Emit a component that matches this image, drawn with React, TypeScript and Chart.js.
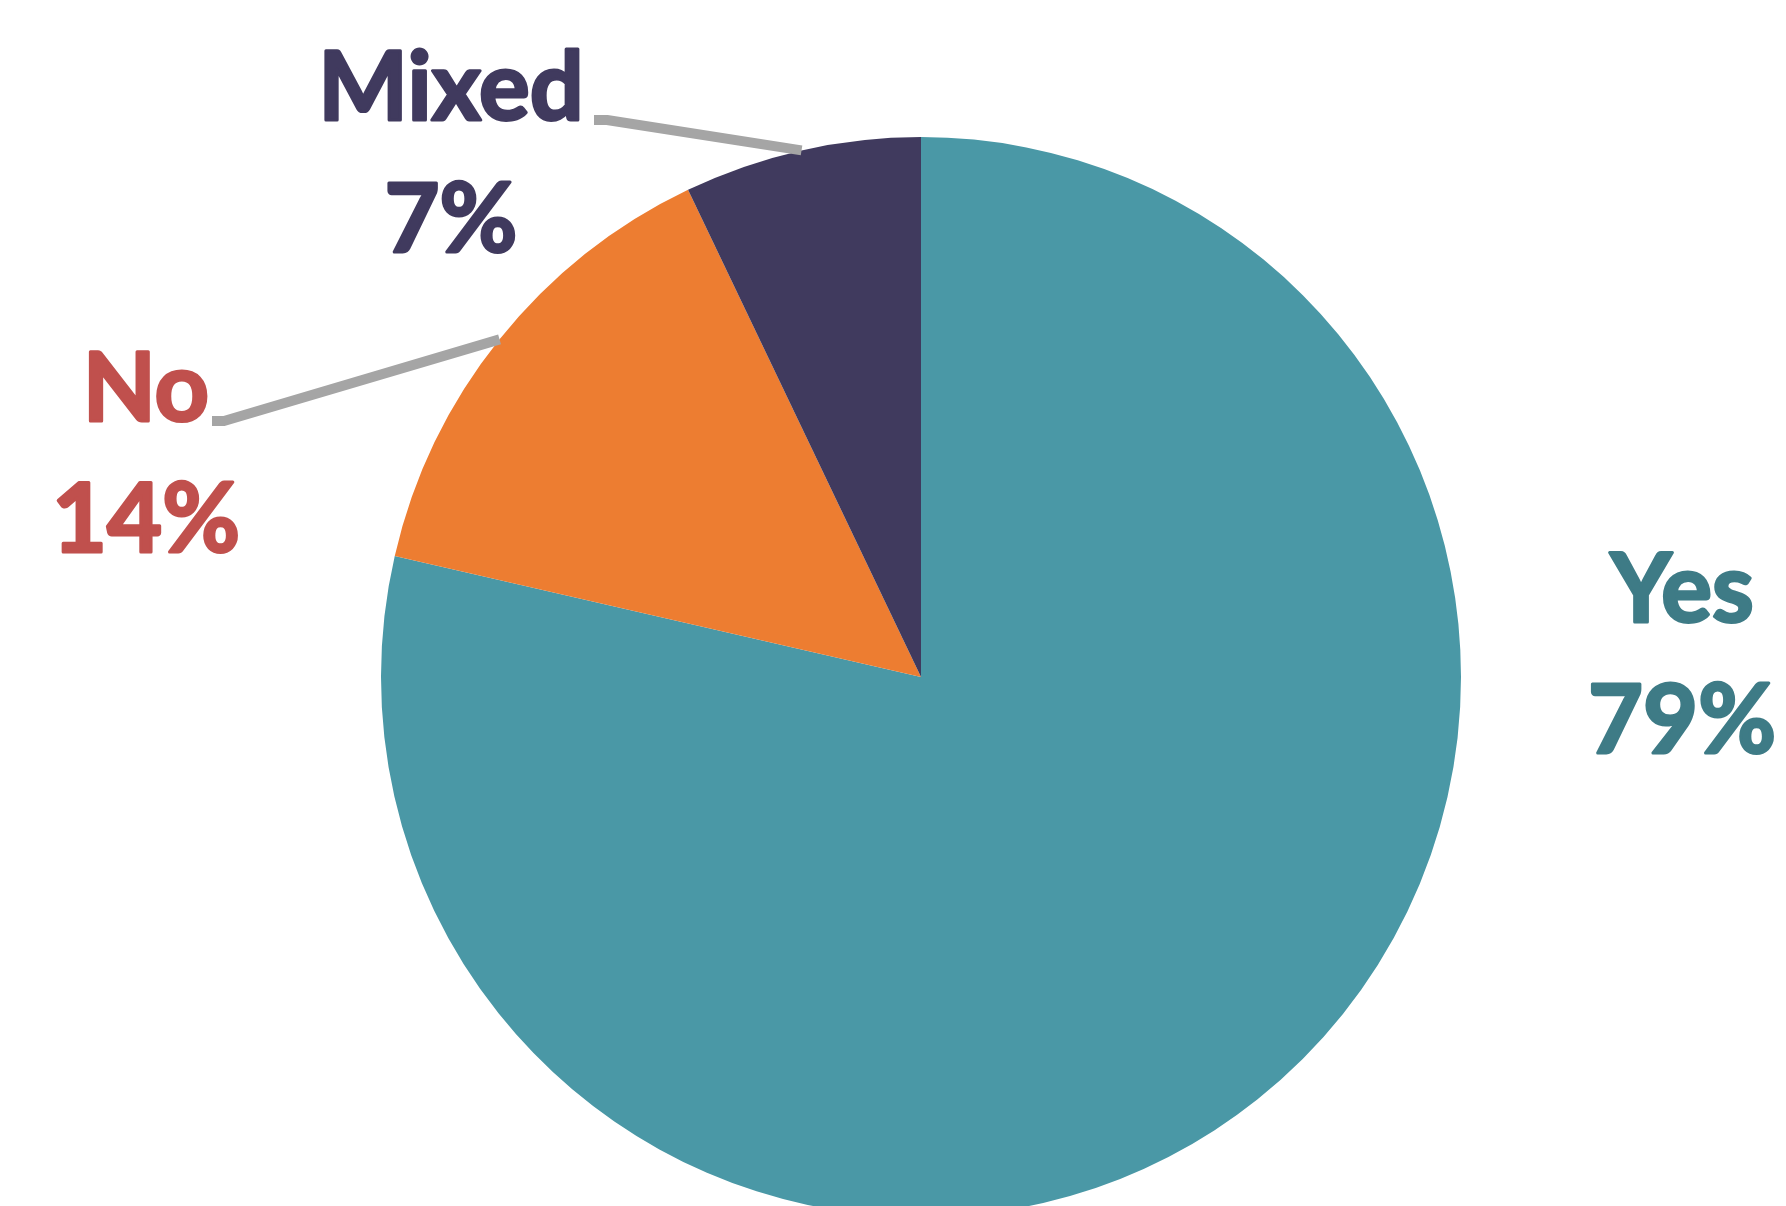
import React, { useEffect, useRef } from "react";
import { Chart, registerables } from "chart.js";

Chart.register(...registerables);

// ---- data ----
const categories = ["Yes", "No", "Mixed"];
const shares = [78.6, 14.3, 7.1];
const percentLabels = ["79%", "14%", "7%"];
const sliceColors = ["#4A98A6", "#ED7D31", "#403A5E"];
const labelColors = ["#3E7B86", "#C0504D", "#403A5E"];

// ---- label layout (canvas px) ----
const LABEL_LAYOUT = [
  { x: 1682, nameY: 622, pctY: 753, leader: null as null | { x0: number; x1: number; y: number } },
  { x: 146, nameY: 421, pctY: 552, leader: { x0: 212, x1: 224, y: 421 } },
  { x: 451, nameY: 120, pctY: 252, leader: { x0: 594, x1: 607, y: 120 } },
];

const W = 1786;
const H = 1206;
const CANVAS_H = 1300;
const FONT = "bold 95px Lato, 'Open Sans', sans-serif";

const labelPlugin = {
  id: "sliceLabels",
  afterDatasetsDraw(chart: any) {
    const ctx = chart.ctx as CanvasRenderingContext2D;
    const meta = chart.getDatasetMeta(0);
    ctx.save();
    meta.data.forEach((arc: any, i: number) => {
      const lay = LABEL_LAYOUT[i];
      const p = arc.getProps(["x", "y", "startAngle", "endAngle", "outerRadius"], true);
      const mid = (p.startAngle + p.endAngle) / 2;
      if (lay.leader) {
        const ex = p.x + Math.cos(mid) * p.outerRadius;
        const ey = p.y + Math.sin(mid) * p.outerRadius;
        ctx.beginPath();
        ctx.moveTo(lay.leader.x0, lay.leader.y);
        ctx.lineTo(lay.leader.x1, lay.leader.y);
        ctx.lineTo(ex, ey);
        ctx.strokeStyle = "#A5A5A5";
        ctx.lineWidth = 10;
        ctx.lineJoin = "round";
        ctx.lineCap = "butt";
        ctx.stroke();
      }
      ctx.fillStyle = labelColors[i];
      ctx.strokeStyle = labelColors[i];
      ctx.lineWidth = 3;
      ctx.lineJoin = "round";
      ctx.font = FONT;
      ctx.textAlign = "center";
      ctx.textBaseline = "alphabetic";
      ctx.fillText(categories[i], lay.x, lay.nameY);
      ctx.strokeText(categories[i], lay.x, lay.nameY);
      ctx.fillText(percentLabels[i], lay.x, lay.pctY);
      ctx.strokeText(percentLabels[i], lay.x, lay.pctY);
    });
    ctx.restore();
  },
};

export default function App() {
  const ref = useRef<HTMLCanvasElement | null>(null);
  useEffect(() => {
    document.body.style.margin = "0";
    if (!ref.current) return;
    const chart = new Chart(ref.current, {
      type: "pie",
      data: {
        labels: categories,
        datasets: [
          {
            data: shares,
            backgroundColor: sliceColors,
            borderWidth: 0,
          },
        ],
      },
      options: {
        animation: false,
        responsive: false,
        devicePixelRatio: 1,
        layout: { padding: { left: 381, right: 325, top: 137, bottom: 83 } },
        plugins: {
          legend: { display: false },
          tooltip: { enabled: false },
          title: { display: false },
        },
      },
      plugins: [labelPlugin],
    });
    return () => chart.destroy();
  }, []);
  return (
    <div style={{ position: "absolute", left: 0, top: 0, width: W, height: H, overflow: "hidden", background: "#fff" }}>
      <canvas ref={ref} width={W} height={CANVAS_H} style={{ width: W, height: CANVAS_H, display: "block" }} />
    </div>
  );
}
